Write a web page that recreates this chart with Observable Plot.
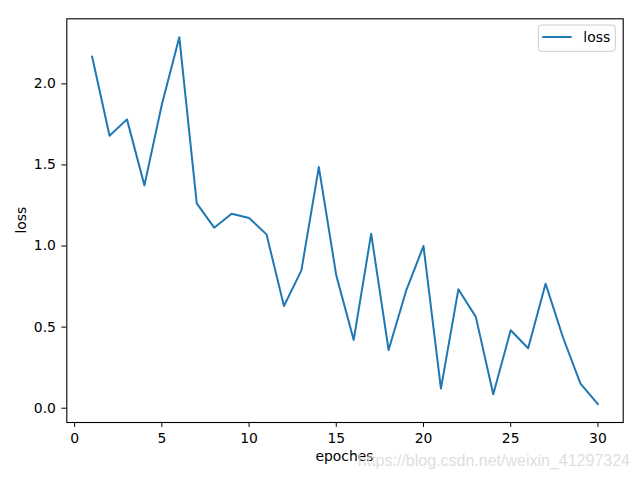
<!DOCTYPE html>
<html>
<head>
<meta charset="utf-8">
<script src="https://cdn.jsdelivr.net/npm/d3@7"></script>
<script src="https://cdn.jsdelivr.net/npm/@observablehq/plot@0.6"></script>
<style>
  html, body { margin: 0; padding: 0; background: #fff; }
  #chart { width: 640px; height: 480px; position: relative; }
</style>
</head>
<body>
<div id="chart"></div>
<script>
const epochs = [1,2,3,4,5,6,7,8,9,10,11,12,13,14,15,16,17,18,19,20,21,22,23,24,25,26,27,28,29,30];
const lossValues = [2.169,1.680,1.781,1.374,1.873,2.288,1.263,1.113,1.199,1.173,
                    1.072,0.630,0.850,1.487,0.819,0.421,1.076,0.359,0.723,1.000,
                    0.121,0.733,0.563,0.086,0.481,0.370,0.768,0.436,0.152,0.025];
const xTicks = [0,5,10,15,20,25,30];
const yTicks = [0.0,0.5,1.0,1.5,2.0];
const seriesName = "loss";
const xLabel = "epoches";
const yLabel = "loss";
const watermark = "https://blog.csdn.net/weixin_41297324";

const data = epochs.map((e, i) => ({epoch: e, loss: lossValues[i]}));

// matplotlib-style 5% margins
const [x0, x1] = d3.extent(epochs);
const [y0, y1] = d3.extent(lossValues);
const mx = (x1 - x0) * 0.05, my = (y1 - y0) * 0.05;

const W = 640, H = 480;
const mL = 66.3, mR = 17.3, mT = 18.3, mB = 58;
const font = "DejaVu Sans, sans-serif";

const plot = Plot.plot({
  width: W, height: H,
  marginLeft: mL, marginRight: mR, marginTop: mT, marginBottom: mB,
  style: {fontFamily: font, fontSize: "13.9px", color: "black", background: "white"},
  x: {domain: [x0 - mx, x1 + mx]},
  y: {domain: [y0 - my, y1 + my]},
  marks: [
    Plot.line(data, {x: "epoch", y: "loss", stroke: "#1f77b4", strokeWidth: 2}),
    Plot.frame({stroke: "black", strokeWidth: 1.1}),
    Plot.axisX({ticks: xTicks, tickSize: 4.9, tickPadding: 6, label: null, tickFormat: d => String(d)}),
    Plot.axisY({ticks: yTicks, tickSize: 4.9, tickPadding: 6, label: null, tickFormat: d => d.toFixed(1)})
  ]
});
document.getElementById("chart").appendChild(plot);

const svg = d3.select(plot);
// axis labels
svg.append("text")
  .attr("x", (mL + (W - mR)) / 2).attr("y", 461)
  .attr("text-anchor", "middle")
  .style("font-family", font).style("font-size", "13.9px").attr("fill", "black")
  .text(xLabel);
svg.append("text")
  .attr("transform", `translate(26,${(mT + (H - mB)) / 2}) rotate(-90)`)
  .attr("text-anchor", "middle")
  .style("font-family", font).style("font-size", "13.9px").attr("fill", "black")
  .text(yLabel);

// legend
const lg = svg.append("g");
lg.append("rect")
  .attr("x", 538.3).attr("y", 25).attr("width", 77).attr("height", 26.3)
  .attr("rx", 3).attr("fill", "white").attr("fill-opacity", 0.8)
  .attr("stroke", "#cccccc").attr("stroke-width", 1);
lg.append("line")
  .attr("x1", 542.3).attr("x2", 571.7).attr("y1", 37).attr("y2", 37)
  .attr("stroke", "#1f77b4").attr("stroke-width", 2);
lg.append("text")
  .attr("x", 583.3).attr("y", 42)
  .attr("text-anchor", "start")
  .style("font-family", font).style("font-size", "13.9px").attr("fill", "black")
  .text(seriesName);

// watermark
svg.append("text")
  .attr("x", 630).attr("y", 466)
  .attr("text-anchor", "end")
  .style("font-family", "Liberation Sans, Arial, sans-serif").style("font-size", "16px")
  .attr("fill", "#d8d8d8").attr("fill-opacity", 0.85)
  .text(watermark);
</script>
</body>
</html>
